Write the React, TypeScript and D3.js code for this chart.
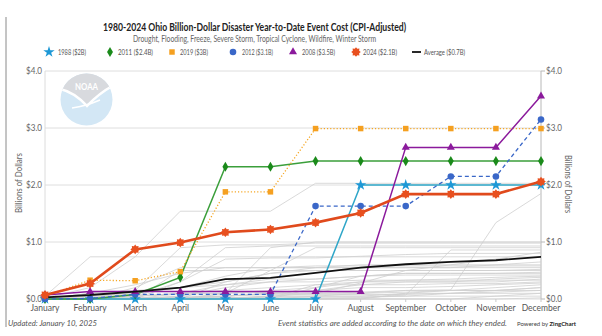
import React from "react";
import * as d3 from "d3";

const months = ["January","February","March","April","May","June","July","August","September","October","November","December"];
const yTicks = [0, 1, 2, 3, 4];

const s1988 = [0,0,0,0,0,0,0,2.0,2.0,2.0,2.0,2.0];
const s2011 = [0,0,0.08,0.38,2.32,2.32,2.42,2.42,2.42,2.42,2.42,2.42];
const s2019 = [0.05,0.33,0.32,0.48,1.88,1.88,2.99,2.99,2.99,2.99,2.99,2.99];
const s2012 = [0,0.01,0.08,0.08,0.08,0.08,1.63,1.63,1.63,2.15,2.15,3.15];
const s2008 = [0.07,0.13,0.13,0.13,0.13,0.13,0.13,0.13,2.66,2.66,2.66,3.56];
const s2024 = [0.07,0.27,0.87,0.99,1.17,1.22,1.34,1.51,1.84,1.84,1.84,2.06];
const sAvg = [0.03,0.07,0.13,0.2,0.35,0.37,0.46,0.55,0.61,0.65,0.68,0.74];

const otherYears = [
  [0.05,0.74,0.74,0.74,0.74,0.74,0.74,0.74,0.74,0.74,0.74,0.74],
  [0.02,0.2,0.74,1.54,1.54,1.54,2.03,2.03,2.03,2.03,2.03,2.03],
  [0,0,0.15,0.9,0.95,0.95,0.98,0.98,0.98,0.98,0.98,0.98],
  [0,0,0,0.02,0.05,0.1,0.1,0.12,0.15,0.16,1.34,1.85],
  [0,0.1,0.25,0.45,0.55,0.55,0.55,0.6,0.6,0.6,0.6,0.6],
  [0,0,0,0,0,0.05,0.1,0.28,0.5,0.6,0.7,0.82],
  [0,0,0,0,0,0,0,0.02,0.07,0.86,0.86,0.86],
  [0,0,0.1,0.2,0.3,0.45,0.5,0.5,0.5,0.5,0.5,0.52],
  [0,0.05,0.05,0.3,0.9,0.93,0.93,0.93,0.93,0.93,0.93,0.93],
  [0,0,0,0.05,0.2,0.3,0.35,0.4,0.45,0.45,0.45,0.45],
  [0,0,0,0,0.1,0.15,0.2,0.3,0.33,0.35,0.38,0.4],
  [0,0,0.05,0.1,0.15,0.2,0.25,0.3,0.3,0.3,0.3,0.35],
  [0,0.02,0.05,0.08,0.1,0.12,0.15,0.2,0.2,0.22,0.25,0.28],
  [0,0,0,0,0,0,0.05,0.1,0.12,0.15,0.2,0.25],
  [0,0,0,0.05,0.05,0.1,0.1,0.1,0.15,0.15,0.15,0.2],
  [0,0,0,0,0,0.05,0.05,0.05,0.1,0.1,0.12,0.15],
  [0,0,0,0,0,0,0,0,0,0,0.05,0.1],
  [0,0,0,0,0.02,0.05,0.05,0.05,0.05,0.05,0.05,0.05],
  [0,0,0.2,0.55,0.55,0.55,0.58,0.58,0.58,0.58,0.58,0.58],
  [0,0.05,0.1,0.2,0.4,0.55,0.55,0.55,0.55,0.55,0.55,0.55],
  [0,0,0,0.5,0.5,0.5,0.5,0.5,0.5,0.5,0.5,0.5],
  [0,0,0,0.1,0.25,0.35,0.35,0.4,0.42,0.42,0.42,0.42],
  [0,0,0.05,0.1,0.1,0.5,0.9,0.9,0.9,0.9,0.9,0.9],
  [0,0,0,0,0.1,0.9,1.0,1.0,1.0,1.0,1.0,1.0],
  [0,0,0,0,0.3,0.45,0.55,0.55,0.55,0.55,0.6,0.65],
  [0,0,0,0,0,0,0.2,0.4,0.45,0.45,0.45,0.47],
  [0,0,0,0.02,0.02,0.03,0.03,0.03,0.05,0.1,0.15,0.2],
  [0,0,0,0,0,0,0,0,0.1,0.15,0.15,0.15],
  [0,0,0.03,0.03,0.05,0.08,0.08,0.08,0.08,0.1,0.1,0.1],
  [0,0,0,0,0,0,0,0,0,0,0,0.02],
  [0,0.1,0.15,0.2,0.25,0.3,0.3,0.33,0.33,0.33,0.33,0.33],
  [0,0,0,0,0.05,0.1,0.15,0.25,0.3,0.3,0.35,0.38],
  [0,0,0,0.3,0.7,0.72,0.72,0.75,0.78,0.8,0.8,0.8],
  [0,0,0.02,0.02,0.02,0.02,0.25,0.25,0.25,0.27,0.27,0.3],
];

const FONT = "Lato, 'Open Sans', sans-serif";

type Series = { name: string; values: number[]; line: string; marker: string; width: number; dash?: string; symbol: string; size: number };

const highlighted: Series[] = [
  { name: "1988 ($2B)", values: s1988, line: "#2ea6c8", marker: "#1d98d6", width: 1.5, symbol: "star", size: 40 },
  { name: "2011 ($2.4B)", values: s2011, line: "#3b9f3b", marker: "#1a8a1a", width: 1.5, symbol: "diamond", size: 30 },
  { name: "2019 ($3B)", values: s2019, line: "#f5a623", marker: "#f5a020", width: 1.3, dash: "1.2,2", symbol: "square", size: 30 },
  { name: "2012 ($3.1B)", values: s2012, line: "#3a67c8", marker: "#3a67c8", width: 1.3, dash: "4,3", symbol: "circle", size: 34 },
  { name: "2008 ($3.5B)", values: s2008, line: "#8b1a9c", marker: "#8b1a9c", width: 1.5, symbol: "triangle", size: 28 },
];

const symMap: Record<string, d3.SymbolType> = {
  star: d3.symbolStar, diamond: d3.symbolDiamond, square: d3.symbolSquare, circle: d3.symbolCircle, triangle: d3.symbolTriangle,
};

function gearPath(r1: number, r2: number) {
  const pts: [number, number][] = [];
  for (let i = 0; i < 16; i++) pts.push([(i / 16) * Math.PI * 2, i % 2 === 0 ? r1 : r2]);
  return d3.lineRadial().curve(d3.curveLinearClosed)(pts) || "";
}

function T(props: any) {
  const { children, len, ...rest } = props;
  return (
    <text fontFamily={FONT} textLength={len} lengthAdjust="spacingAndGlyphs" {...rest}>{children}</text>
  );
}

export default function App() {
  const x = d3.scalePoint<string>().domain(months).range([45, 541]);
  const y = d3.scaleLinear().domain([0, 4]).range([299, 71]);
  const line = d3.line<number>().x((_, i) => x(months[i]) as number).y((d) => y(d));
  const gear = gearPath(4.8, 3.4);

  const legendItems = [
    { sx: 49, tx: 58, len: 28, s: highlighted[0] },
    { sx: 110, tx: 118, len: 35, s: highlighted[1] },
    { sx: 172, tx: 180, len: 28, s: highlighted[2] },
    { sx: 233, tx: 242, len: 31, s: highlighted[3] },
    { sx: 293, tx: 302, len: 33, s: highlighted[4] },
  ];

  return (
    <svg width={602} height={336} style={{ position: "absolute", left: 0, top: 0, background: "#fff" }}>
      <rect x={0} y={0} width={602} height={336} fill="#fff" />
      <line x1={6} x2={6} y1={17} y2={327} stroke="#8a8a8a" strokeWidth={1} />

      <T x={103} y={31} len={303} fontSize={11} fontWeight="bold" fill="#222">1980-2024 Ohio Billion-Dollar Disaster Year-to-Date Event Cost (CPI-Adjusted)</T>
      <T x={133} y={42} len={243} fontSize={8.5} fill="#666">Drought, Flooding, Freeze, Severe Storm, Tropical Cyclone, Wildfire, Winter Storm</T>

      {legendItems.map((it, i) => (
        <g key={i}>
          <path d={d3.symbol().type(symMap[it.s.symbol]).size(it.s.size)() || ""} transform={`translate(${it.sx},52)`} fill={it.s.marker} />
          <T x={it.tx} y={55} len={it.len} fontSize={7.5} fill="#555">{it.s.name}</T>
        </g>
      ))}
      <g>
        <path d={gear} transform="translate(356,52)" fill="#e8501f" />
        <T x={363} y={55} len={34} fontSize={7.5} fill="#555">2024 ($2.1B)</T>
        <line x1={412} x2={421} y1={52} y2={52} stroke="#111" strokeWidth={1.8} />
        <T x={424} y={55} len={41} fontSize={7.5} fill="#555">Average ($0.7B)</T>
      </g>

      {/* NOAA logo watermark */}
      <defs>
        <clipPath id="logoClip"><circle cx={86.5} cy={99.5} r={26} /></clipPath>
      </defs>
      <g clipPath="url(#logoClip)">
        <rect x={60} y={73} width={53} height={53} fill="#d3e7f5" />
        <path d="M58,70 L116,70 L116,84 Q102,90 87,104 Q74,92 58,88 Z" fill="#d8dade" />
        <path d="M60,89 Q74,92 87,106 Q100,92 116,84" fill="none" stroke="#fff" strokeWidth={2.5} />
        <path d="M72,108 Q86,106 100,100" fill="none" stroke="#fff" strokeWidth={1.5} />
      </g>
      <T x={75} y={90} len={23} fontSize={8.5} fontWeight="bold" fill="#fff">NOAA</T>

      {/* grid */}
      {yTicks.map((t) => (
        <line key={t} x1={45} x2={541} y1={y(t)} y2={y(t)} stroke="#dedede" strokeWidth={1} />
      ))}
      <line x1={45} x2={45} y1={71} y2={299} stroke="#dcdcdc" strokeWidth={1} />
      <line x1={541} x2={541} y1={71} y2={299} stroke="#b8b8b8" strokeWidth={1} />
      {yTicks.map((t) => (
        <g key={"t" + t}>
          <line x1={541} x2={545} y1={y(t)} y2={y(t)} stroke="#b8b8b8" />
          <T x={42} y={y(t) + 3} len={16} fontSize={9} fill="#666" textAnchor="end">{"$" + t.toFixed(1)}</T>
          <T x={546} y={y(t) + 3} len={16} fontSize={9} fill="#666">{"$" + t.toFixed(1)}</T>
        </g>
      ))}
      {months.map((m) => (
        <g key={m}>
          <line x1={x(m)} x2={x(m)} y1={299} y2={302} stroke="#c8c8c8" />
          <text x={x(m)} y={311} fontFamily={FONT} fontSize={8.5} fill="#555" textAnchor="middle">{m}</text>
        </g>
      ))}

      <T x={0} y={0} len={60} fontSize={9} fill="#666" textAnchor="middle" transform="translate(22,183) rotate(-90)">Billions of Dollars</T>
      <T x={0} y={0} len={58} fontSize={9} fill="#666" textAnchor="middle" transform="translate(565,184) rotate(90)">Billions of Dollars</T>

      {/* other years */}
      {otherYears.map((vals, i) => (
        <path key={"g" + i} d={line(vals) || ""} fill="none" stroke="#cfcfcf" strokeWidth={0.8} />
      ))}

      {highlighted.map((s) => (
        <g key={s.name}>
          <path d={line(s.values) || ""} fill="none" stroke={s.line} strokeWidth={s.width} strokeDasharray={s.dash} />
          {s.values.map((v, i) => (
            <path key={i} d={d3.symbol().type(symMap[s.symbol]).size(s.size)() || ""} transform={`translate(${x(months[i])},${y(v)})`} fill={s.marker} />
          ))}
        </g>
      ))}

      <path d={line(sAvg) || ""} fill="none" stroke="#111" strokeWidth={1.8} />

      <path d={line(s2024) || ""} fill="none" stroke="#e04a1c" strokeWidth={2.6} />
      {s2024.map((v, i) => (
        <path key={i} d={gear} transform={`translate(${x(months[i])},${y(v)})`} fill="#e8501f" />
      ))}

      <T x={8} y={326} len={89} fontSize={8} fontStyle="italic" fill="#555">Updated: January 10, 2025</T>
      <T x={278} y={326} len={229} fontSize={7.6} fontStyle="italic" fill="#555">Event statistics are added according to the date on which they ended.</T>
      <text x={517} y={326} fontFamily={FONT} fontSize={6} fill="#444" textLength={59} lengthAdjust="spacingAndGlyphs">Powered by <tspan fontWeight="bold" fill="#222">ZingChart</tspan></text>
    </svg>
  );
}
